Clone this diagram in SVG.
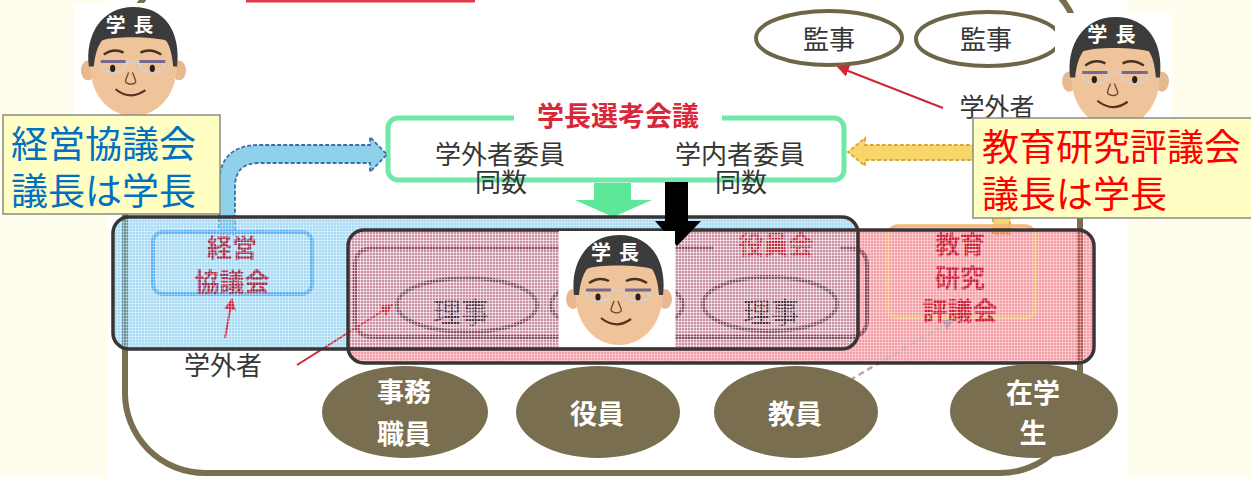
<svg xmlns="http://www.w3.org/2000/svg" xmlns:xlink="http://www.w3.org/1999/xlink" width="1251" height="478" viewBox="0 0 1251 478">
  <defs>
    <style>
      text { font-family: "Noto Sans CJK JP", "Noto Sans", sans-serif; }
      .lbl { fill: #363636; text-anchor: middle; }
      .bold { font-weight: bold; text-anchor: middle; }
      .pill { fill: #7a6e50; }
      .pilltxt { fill: #ffffff; font-size: 27px; font-weight: bold; text-anchor: middle; }
      .kansa { fill: #ffffff; stroke: #6e6648; stroke-width: 4; }
      .riji { fill: none; stroke: #80505f; stroke-width: 4; }
      .rijitxt { fill: #4a3040; font-size: 28px; text-anchor: middle; }
      .note { fill: #ffffc4; stroke: #8c8c80; stroke-width: 1.5; }
      .zoneline { fill: none; stroke: #3a3535; stroke-width: 3.5; }
      .redline { fill: none; stroke: #d02535; stroke-width: 2; }
    </style>
    <marker id="redhead" viewBox="0 0 10 10" refX="9" refY="5" markerUnits="userSpaceOnUse" markerWidth="12" markerHeight="12" orient="auto">
      <path d="M0,0 L10,5 L0,10 Z" fill="#d02535"/>
    </marker>
    <marker id="greyhead" viewBox="0 0 10 10" refX="9" refY="5" markerUnits="userSpaceOnUse" markerWidth="11" markerHeight="11" orient="auto">
      <path d="M0,0 L10,5 L0,10 Z" fill="#b08890"/>
    </marker>
    <!-- halftone grid laid over the shaded zones -->
    <pattern id="mesh" width="3" height="3" patternUnits="userSpaceOnUse">
      <rect width="3" height="1" fill="#ffffff" fill-opacity="0.35"/>
      <rect width="1" height="3" fill="#ffffff" fill-opacity="0.35"/>
    </pattern>
    <!-- president portrait -->
    <symbol id="face" viewBox="0 0 116 116">
      <rect width="116" height="116" fill="#ffffff"/>
      <ellipse cx="14" cy="68" rx="7" ry="10" fill="#e8b890"/>
      <ellipse cx="106" cy="68" rx="7" ry="10" fill="#e8b890"/>
      <path d="M16,60 C16,98 40,114 60,114 C80,114 104,98 104,60 C104,36 86,26 60,26 C34,26 16,36 16,60 Z" fill="#efc49a"/>
      <path d="M15,64 C11,32 28,4 60,4 C92,4 108,30 104,64 L100,64 C99,52 97,44 93,38 C82,34 40,33 28,38 C23,45 21,54 20,64 Z" fill="#3b3b3b"/>
      <text x="32" y="29" font-size="20" font-weight="bold" fill="#ffffff" letter-spacing="8">学長</text>
      <path d="M30,52 Q40,45 50,50" fill="none" stroke="#4a3020" stroke-width="2.5"/>
      <path d="M67,50 Q77,45 88,52" fill="none" stroke="#4a3020" stroke-width="2.5"/>
      <path d="M28,59 L28,65 Q30,70 40,70 Q50,70 51,65 L51,59 M67,59 L67,65 Q69,70 79,70 Q89,70 91,65 L91,59 M51,61 Q59,58 67,61" fill="none" stroke="#d2d2da" stroke-width="1.6"/>
      <path d="M27,59 L52,59 M66,59 L92,59" stroke="#76688e" stroke-width="3"/>
      <ellipse cx="39" cy="66" rx="2.6" ry="3.6" fill="#2a2018"/>
      <ellipse cx="79" cy="66" rx="2.6" ry="3.6" fill="#2a2018"/>
      <path d="M55,70 C53,76 50,80 54,81 C56,82 59,82 61,81 C64,80 61,76 59,70" fill="none" stroke="#6a4430" stroke-width="1.3"/>
      <path d="M42,87 Q57,99 72,88" fill="none" stroke="#5a3020" stroke-width="2.2"/>
    </symbol>
  </defs>

  <!-- page -->
  <rect width="1251" height="478" fill="#fffdee"/>
  <rect x="107" y="0" width="1020" height="478" fill="#ffffff"/>
  <rect x="246" y="0" width="229" height="2.5" fill="#e23848"/>
  <rect id="campus" x="125" y="-30" width="955" height="503" rx="80" fill="none" stroke="#7a6e50" stroke-width="6"/>

  <!-- auditors -->
  <g id="auditor-1">
    <ellipse class="kansa" cx="829" cy="38" rx="73" ry="27"/>
    <text class="lbl" x="829" y="49" font-size="26">監事</text>
  </g>
  <g id="auditor-2">
    <ellipse class="kansa" cx="988" cy="39" rx="72" ry="27"/>
    <text class="lbl" x="986" y="49" font-size="26">監事</text>
  </g>
  <g id="outsider-auditor">
    <text class="lbl" x="997" y="116" font-size="25">学外者</text>
  </g>

  <!-- president selection council -->
  <g id="selection-council">
    <rect x="388" y="118" width="456" height="62" rx="10" fill="#ffffff" stroke="#70e8a8" stroke-width="5"/>
    <rect x="514" y="108" width="208" height="16" fill="#ffffff"/>
    <text class="bold" x="618" y="126" font-size="27" fill="#d8283a">学長選考会議</text>
    <text class="lbl" x="500" y="164" font-size="26">学外者委員</text>
    <text class="lbl" x="501" y="192" font-size="26">同数</text>
    <text class="lbl" x="740" y="164" font-size="26">学内者委員</text>
    <text class="lbl" x="741" y="192" font-size="26">同数</text>
  </g>

  <!-- connectors between the upper bodies -->
  <g id="connectors">
    <path d="M943,108 L838,67" class="redline" marker-end="url(#redhead)"/>
    <polygon points="594,183 631,183 631,200 652,200 613,217 575,200 594,200" fill="#5ce898"/>
    <path d="M219,234 L219,185 Q219,145 259,145 L370,145 L370,137 L387,154.5 L370,172 L370,163 L259,163 Q235,163 235,187 L235,234 Z" fill="#8fd0ea" stroke="#3a6fa8" stroke-width="1.8" stroke-dasharray="4 2"/>
    <path d="M993,234 L993,175 Q993,160 978,160 L865,160 L865,166 L848,152 L865,138 L865,145 L978,145 Q1010,145 1010,177 L1010,234 Z" fill="#f8d66a" stroke="#d9a830" stroke-width="1.8" stroke-dasharray="4 2"/>
  </g>

  <!-- shaded zones -->
  <g id="zone-fills">
    <rect x="113" y="217" width="745" height="132" rx="16" fill="#51b9e9" fill-opacity="0.5"/>
    <rect x="348" y="230" width="746" height="133" rx="16" fill="#eb4151" fill-opacity="0.5"/>
  </g>

  <g id="management-council">
    <rect x="153" y="232" width="159" height="62" rx="10" fill="none" stroke="#5aaef2" stroke-width="4"/>
    <text class="bold" x="232" y="257" font-size="25" fill="#a52a4a">経営</text>
    <text class="bold" x="232" y="291" font-size="25" fill="#a52a4a">協議会</text>
  </g>
  <g id="outsider-management">
    <text class="lbl" x="223" y="375" font-size="26">学外者</text>
  </g>

  <g id="board">
    <path d="M713,248 L373,248 Q355,248 355,266 L355,319 Q355,337 373,337 L849,337 Q867,337 867,319 L867,266 Q867,248 849,248 L840,248" fill="none" stroke="#8a4858" stroke-width="4"/>
    <text class="bold" x="776" y="254" font-size="25" fill="#c22a3a">役員会</text>
  </g>
  <g id="director-1">
    <ellipse class="riji" cx="467" cy="305" rx="70" ry="27"/>
    <text class="rijitxt" x="461" y="323">理事</text>
  </g>
  <g id="director-2">
    <ellipse class="riji" cx="617" cy="305" rx="66" ry="27"/>
  </g>
  <g id="director-3">
    <ellipse class="riji" cx="770" cy="304" rx="67" ry="27"/>
    <text class="rijitxt" x="771" y="323">理事</text>
  </g>

  <g id="education-council">
    <rect x="888" y="226" width="147" height="92" rx="10" fill="none" stroke="#f5b878" stroke-width="3.5"/>
    <text class="bold" x="960" y="254" font-size="25" fill="#cc1830">教育</text>
    <text class="bold" x="960" y="287" font-size="25" fill="#cc1830">研究</text>
    <text class="bold" x="960" y="320" font-size="25" fill="#cc1830">評議会</text>
  </g>

  <g id="inner-connectors">
    <path d="M225,338 L232,299" class="redline" marker-end="url(#redhead)"/>
    <path d="M297,365 L392,305" class="redline" marker-end="url(#redhead)"/>
    <path d="M850,380 L953,320" fill="none" stroke="#c8a0a8" stroke-width="2.5" stroke-dasharray="6 4" marker-end="url(#greyhead)"/>
  </g>

  <g id="zone-frames">
    <rect x="113" y="217" width="745" height="132" rx="16" fill="url(#mesh)"/>
    <rect x="348" y="230" width="746" height="133" rx="16" fill="url(#mesh)"/>
    <rect class="zoneline" x="348" y="230" width="746" height="133" rx="16"/>
    <rect class="zoneline" x="113" y="217" width="745" height="132" rx="16"/>
  </g>

  <!-- appointment arrow into the board -->
  <g id="appoint-arrow">
    <polygon points="665,182 688,182 688,221 701,221 677,246 655,221 665,221" fill="#000000"/>
  </g>

  <!-- members -->
  <g id="staff">
    <ellipse class="pill" cx="405" cy="412" rx="83" ry="46"/>
    <text class="pilltxt" x="404" y="402">事務</text>
    <text class="pilltxt" x="404" y="444">職員</text>
  </g>
  <g id="officers">
    <ellipse class="pill" cx="598" cy="412" rx="82" ry="46"/>
    <text class="pilltxt" x="597" y="424">役員</text>
  </g>
  <g id="faculty">
    <ellipse class="pill" cx="796" cy="412" rx="82" ry="46"/>
    <text class="pilltxt" x="795" y="424">教員</text>
  </g>
  <g id="students">
    <ellipse class="pill" cx="1034" cy="411" rx="84" ry="47"/>
    <text class="pilltxt" x="1033" y="403">在学</text>
    <text class="pilltxt" x="1033" y="443">生</text>
  </g>

  <!-- presidents and notes -->
  <g id="president-center">
    <use xlink:href="#face" x="559" y="231" width="116" height="116"/>
  </g>
  <g id="president-left">
    <use xlink:href="#face" x="73" y="3" width="117" height="115"/>
  </g>
  <g id="president-right">
    <use xlink:href="#face" x="1055" y="13" width="117" height="117"/>
  </g>
  <g id="note-management">
    <rect class="note" x="3" y="115" width="217" height="99"/>
    <text x="11" y="158" font-size="37" fill="#0070c0">経営協議会</text>
    <text x="11" y="205" font-size="37" fill="#0070c0">議長は学長</text>
  </g>
  <g id="note-education">
    <rect class="note" x="973" y="118" width="282" height="100"/>
    <text x="982" y="161" font-size="37" fill="#ff0000">教育研究評議会</text>
    <text x="982" y="208" font-size="37" fill="#ff0000">議長は学長</text>
  </g>
</svg>
